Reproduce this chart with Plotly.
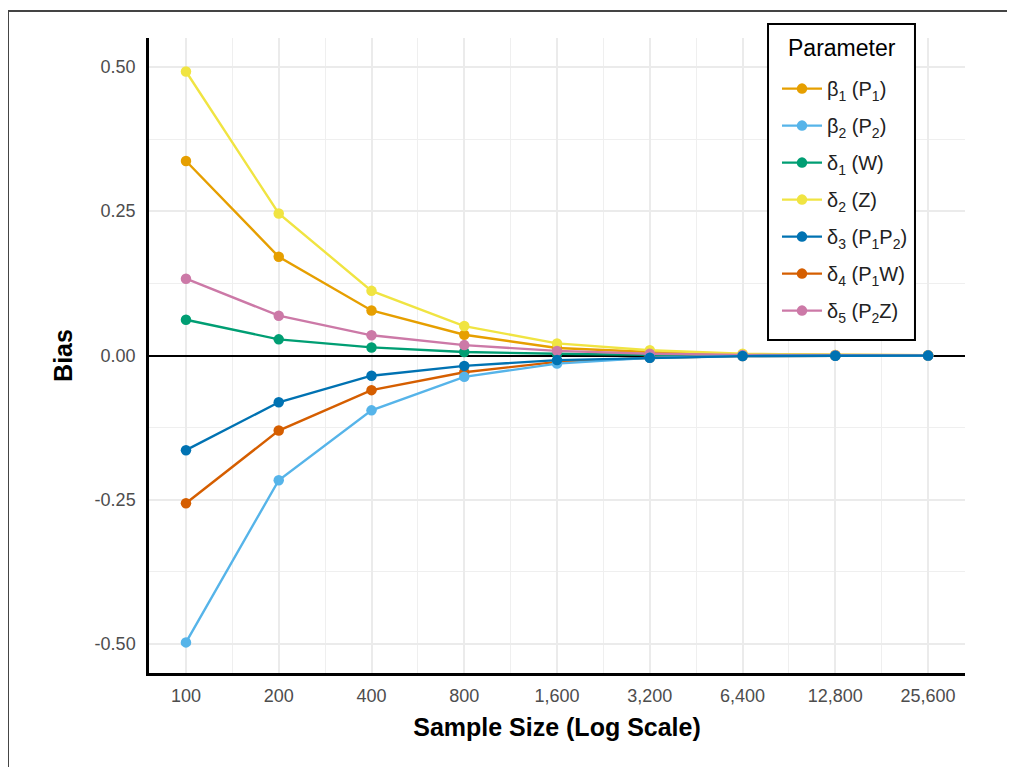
import plotly.graph_objects as go

sample_sizes = [100, 200, 400, 800, 1600, 3200, 6400, 12800, 25600]
x_tick_labels = ["100", "200", "400", "800", "1,600", "3,200", "6,400", "12,800", "25,600"]
y_tick_vals = [0.5, 0.25, 0.0, -0.25, -0.5]
y_tick_labels = ["0.50", "0.25", "0.00", "-0.25", "-0.50"]

beta1 = [0.337, 0.171, 0.078, 0.036, 0.013, 0.006, 0.002, 0.001, 0.0005]
beta2 = [-0.497, -0.216, -0.095, -0.037, -0.014, -0.004, -0.001, -0.0005, -0.0002]
delta1 = [0.062, 0.028, 0.014, 0.006, 0.003, 0.001, 0.0005, 0.0002, 0.0001]
delta2 = [0.492, 0.246, 0.112, 0.051, 0.021, 0.009, 0.003, 0.001, 0.0005]
delta3 = [-0.164, -0.081, -0.035, -0.018, -0.008, -0.004, -0.001, -0.0005, -0.0002]
delta4 = [-0.256, -0.130, -0.060, -0.029, -0.011, -0.004, -0.001, -0.0005, -0.0002]
delta5 = [0.133, 0.069, 0.035, 0.018, 0.008, 0.003, 0.001, 0.0005, 0.0002]

names = ["β<sub>1</sub> (P<sub>1</sub>)", "β<sub>2</sub> (P<sub>2</sub>)", "δ<sub>1</sub> (W)",
         "δ<sub>2</sub> (Z)", "δ<sub>3</sub> (P<sub>1</sub>P<sub>2</sub>)",
         "δ<sub>4</sub> (P<sub>1</sub>W)", "δ<sub>5</sub> (P<sub>2</sub>Z)"]
series = [beta1, beta2, delta1, delta2, delta3, delta4, delta5]
colors = ["#E69F00", "#56B4E9", "#009E73", "#F0E442", "#0072B2", "#D55E00", "#CC79A7"]
draw_order = [0, 2, 3, 5, 6, 1, 4]

fig = go.Figure()
for i in draw_order:
    fig.add_trace(go.Scatter(
        x=sample_sizes, y=series[i], name=names[i], mode="lines+markers",
        line=dict(color=colors[i], width=2.4),
        marker=dict(color=colors[i], size=10.5),
        legendrank=i + 1, legendgroup="g%d" % i,
    ))

minor_x = [v * 2 ** 0.5 for v in sample_sizes[:-1]]

# page body has an 8px margin, so the figure is offset by 8px and sized to fit
fig.update_layout(
    width=999, height=759,
    margin=dict(l=141, r=42, t=30, b=94),
    paper_bgcolor="white", plot_bgcolor="white",
    font=dict(family="Liberation Sans, Arial, sans-serif", size=18, color="#4D4D4D"),
    showlegend=True,
    legend=dict(
        font=dict(size=20, color="#222222"),
        x=0.7696, y=0.951, xanchor="left", yanchor="top",
        bgcolor="rgba(0,0,0,0)", borderwidth=0,
        traceorder="grouped", tracegroupgap=8, itemwidth=40,
    ),
    xaxis=dict(
        type="log", range=[1.880, 4.528],
        tickvals=sample_sizes, ticktext=x_tick_labels,
        showgrid=True, gridcolor="#EBEBEB", gridwidth=1.6,
        minor=dict(tickvals=minor_x, showgrid=True, gridcolor="#EFEFEF", gridwidth=1),
        showline=True, linecolor="black", linewidth=2.5,
        ticks="", ticklabelstandoff=5,
        tickfont=dict(size=18, color="#4D4D4D"),
        title=dict(text="<b>Sample Size (Log Scale)</b>", font=dict(size=25, color="black"), standoff=14),
        zeroline=False,
    ),
    yaxis=dict(
        range=[-0.55, 0.55],
        tickvals=y_tick_vals, ticktext=y_tick_labels,
        showgrid=True, gridcolor="#EBEBEB", gridwidth=1.6,
        minor=dict(tickvals=[-0.375, -0.125, 0.125, 0.375], showgrid=True, gridcolor="#EFEFEF", gridwidth=1),
        showline=True, linecolor="black", linewidth=2.5,
        ticks="", ticklabelstandoff=7,
        tickfont=dict(size=18, color="#4D4D4D"),
        title=dict(text="<b>Bias</b>", font=dict(size=25, color="black"), standoff=15),
        zeroline=True, zerolinecolor="black", zerolinewidth=2,
    ),
)

# legend box with title
fig.add_shape(type="rect", xref="paper", yref="paper",
              x0=0.7586, x1=0.9387, y0=0.5244, y1=1.022,
              line=dict(color="black", width=2), fillcolor="white", layer="above")
fig.add_annotation(text="Parameter", xref="paper", yref="paper", x=0.849, y=0.984,
                   showarrow=False, xanchor="center", yanchor="middle",
                   font=dict(size=23, color="black"))

# outer frame (top and left edges visible)
fig.add_shape(type="line", xref="paper", yref="paper", x0=-0.1728, x1=1.2, y0=1.0425, y1=1.0425,
              line=dict(color="#444444", width=2), layer="above")
fig.add_shape(type="line", xref="paper", yref="paper", x0=-0.1728, x1=-0.1728, y0=-0.3, y1=1.0425,
              line=dict(color="#444444", width=2), layer="above")

fig.write_html("out.html")
